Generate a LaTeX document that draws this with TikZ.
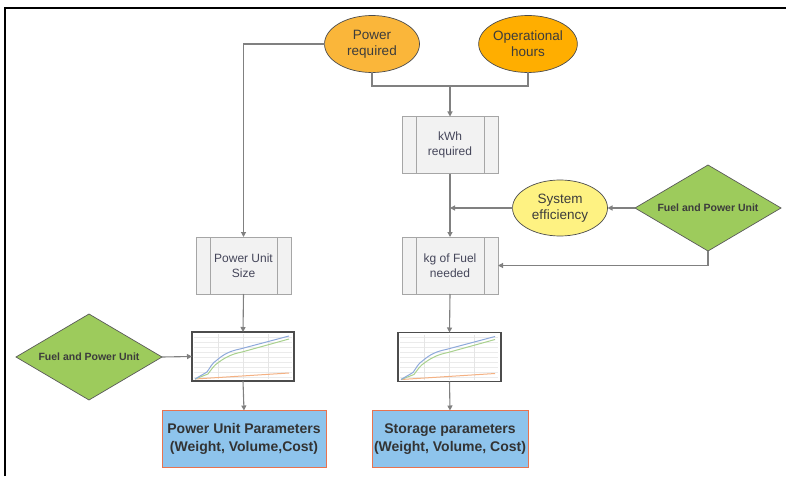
\documentclass[tikz,border=0pt]{standalone}
\usepackage{fontspec}
\setmainfont{Liberation Sans}
\usetikzlibrary{shapes.geometric,arrows.meta,calc}
\definecolor{orA}{HTML}{FAB63A}
\definecolor{orB}{HTML}{FFAE00}
\definecolor{yel}{HTML}{FEF282}
\definecolor{grn}{HTML}{9DCB5C}
\definecolor{blu}{HTML}{8EC4EC}
\definecolor{bluedge}{HTML}{E8734F}
\definecolor{conn}{HTML}{808080}
\definecolor{txt}{HTML}{3C3C3C}
\definecolor{btxt}{HTML}{45465A}
\definecolor{cblue}{HTML}{8EA9DB}
\definecolor{cgreen}{HTML}{A9D18E}
\definecolor{corange}{HTML}{F4B183}
\tikzset{
  every node/.style={inner sep=0pt, outer sep=0pt},
  oval/.style={ellipse, draw=black!70, line width=0.7pt, minimum width=95pt, minimum height=57pt,
     align=center, font=\fontsize{13.5}{16}\selectfont, text=txt},
  procbox/.style={rectangle, draw=black!35, line width=0.9pt, fill=black!5, minimum width=96pt,
     minimum height=57pt, align=center, font=\fontsize{12}{15}\selectfont, text=btxt,
     path picture={\draw[black!35, line width=0.9pt]
        ([xshift=14pt]path picture bounding box.north west) -- ([xshift=14pt]path picture bounding box.south west)
        ([xshift=-14pt]path picture bounding box.north east) -- ([xshift=-14pt]path picture bounding box.south east);}},
  decision/.style={diamond, shape aspect=1.7, draw=black!65, line width=0.7pt, fill=grn,
     minimum width=146pt, minimum height=86pt, font=\bfseries\fontsize{10.5}{12}\selectfont, text=txt},
  chartbox/.style={rectangle, draw=black!70, line width=1.3pt, fill=white, minimum width=102pt, minimum height=49pt},
  resbox/.style={rectangle, draw=bluedge, line width=0.9pt, fill=blu, minimum height=57pt,
     align=center, font=\bfseries\fontsize{14}{18}\selectfont, text=black!80},
  conline/.style={draw=conn, line width=1.1pt},
  arr/.style={conline, -{Triangle[length=5pt,width=5pt]}},
}
\newcommand\mychartdraw[1]{%
  \begin{scope}[shift={(#1.north west)}]
    \foreach \yy in {5,10,...,45} \draw[black!8, line width=0.4pt] (2,\yy) -- (100,\yy);
    \foreach \xx in {26,51,76} \draw[black!10, line width=0.4pt] (\xx,2) -- (\xx,47);
    \draw[corange, line width=1pt] (3,47) -- (97,41);
    \draw[cgreen, line width=1pt] (3,47) -- (16,42) .. controls (19,38) and (22,33) .. (27,30)
       .. controls (34,25) and (40,22) .. (50,20) -- (97,7);
    \draw[cblue, line width=1pt] (3,47) -- (15,40) .. controls (18,36) and (20,31) .. (25,28)
       .. controls (32,22) and (38,19) .. (48,17) -- (97,4);
  \end{scope}}
\begin{document}
\begin{tikzpicture}[x=1pt,y=-1pt]
\useasboundingbox (0,0) rectangle (786,476);
\fill[white] (0,0) rectangle (786,476);
\draw[black, line width=2pt] (4.5,476) -- (4.5,8) -- (786,8);

\node[oval, fill=orA] (pr) at (372,44) {Power\\required};
\node[oval, fill=orB] (oh) at (528,44) {Operational\\hours};
\node[procbox] (kwh) at (450,145) {kWh\\required};
\node[oval, fill=yel, minimum height=56pt] (se) at (560,208) {System\\efficiency};
\node[decision] (d1) at (708,208) {Fuel and Power Unit};
\node[procbox] (kg) at (450,265.5) {kg of Fuel\\needed};
\node[procbox, minimum width=95pt] (pus) at (243.5,265.5) {Power Unit\\Size};
\node[chartbox] (ch1) at (243,356.5) {};
\node[chartbox, minimum width=103pt] (ch2) at (449.5,357) {};
\node[decision] (d2) at (89,357) {Fuel and Power Unit};
\node[resbox, minimum width=164pt] (pup) at (244,439) {Power Unit Parameters\\(Weight, Volume,Cost)};
\node[resbox, minimum width=156pt] (sp) at (450,439) {Storage parameters\\(Weight, Volume, Cost)};

\mychartdraw{ch1}
\mychartdraw{ch2}

\coordinate (m1) at (450,86);
\draw[arr] (pr.west) -| (pus.north);
\draw[conline] (pr.south) |- (m1) -| (oh.south);
\draw[arr] (m1) -- (kwh.north);
\draw[arr] (kwh.south) -- (kg.north);
\draw[arr] (se.west) -- (se.west -| kwh.south);
\draw[arr] (d1.west) -- (se.east);
\draw[arr] (d1.south) |- (kg.east);
\draw[arr] (pus.south) -- (ch1.north);
\draw[arr] (d2.east) -- (ch1.west);
\draw[arr] (ch1.south) -- (pup.north);
\draw[arr] (kg.south) -- (ch2.north);
\draw[arr] (ch2.south) -- (sp.north);
\end{tikzpicture}
\end{document}
